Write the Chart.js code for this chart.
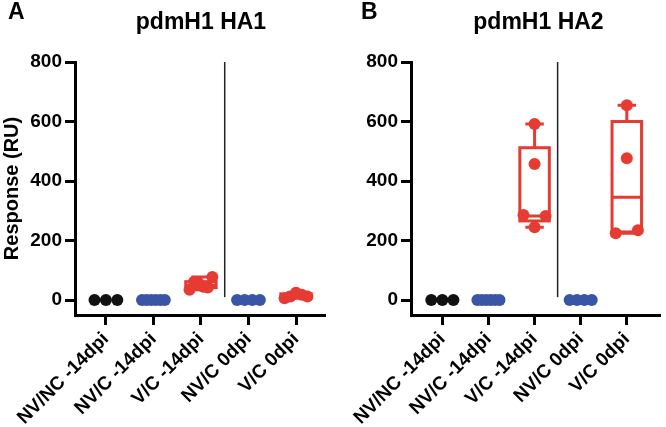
<!DOCTYPE html>
<html>
<head>
<meta charset="utf-8">
<script src="https://cdn.jsdelivr.net/npm/chart.js@4.4.1/dist/chart.umd.min.js"></script>
<style>
  body { margin: 0; background: #fff; }
  #wrap { position: relative; width: 666px; height: 427px; font-family: "Liberation Sans", Arial, sans-serif; font-weight: bold; color: #000; }
  canvas { position: absolute; top: 0; }
  .lbl { position: absolute; font-size: 23px; line-height: 23px; white-space: nowrap; }
  .ttl { position: absolute; font-size: 23px; line-height: 23px; text-align: center; white-space: nowrap; }
</style>
</head>
<body>
<div id="wrap">
  <canvas id="ha1" width="333" height="427" style="left:0"></canvas>
  <canvas id="ha2" width="333" height="427" style="left:333px"></canvas>
  <div class="lbl" style="left:8px;top:0px">A</div>
  <div class="lbl" style="left:361px;top:0px">B</div>
  <div class="ttl" style="left:75px;width:252px;top:10px">pdmH1 HA1</div>
  <div class="ttl" style="left:411px;width:255px;top:10px">pdmH1 HA2</div>
</div>
<script>
const categories = ["NV/NC -14dpi", "NV/C -14dpi", "V/C -14dpi", "NV/C 0dpi", "V/C 0dpi"];
const groupColors = ["#111111", "#3a55a6", "#e63b32", "#3a55a6", "#e63b32"];
const yTicks = [0, 200, 400, 600, 800];

// pdmH1 HA1 response (RU) per animal, one list per group
const ha1Points = [
  [0, 0, 0],
  [0, 0, 0, 0, 0, 0],
  [35, 62, 55, 45, 42, 78],
  [0, 0, 0, 0],
  [6, 12, 25, 18, 12]
];
// whiskers [min, max] and box [q1, median, q3]
const ha1Whiskers = [null, null, [35, 78], null, [6, 25]];
const ha1Boxes = [null, null, [42, 50, 62], null, [9, 12, 21]];

// pdmH1 HA2
const ha2Points = [
  [0, 0, 0],
  [0, 0, 0, 0, 0, 0],
  [592, 457, 286, 283, 245],
  [0, 0, 0, 0],
  [655, 477, 225, 235]
];
const ha2Whiskers = [null, null, [245, 592], null, [225, 655]];
const ha2Boxes = [null, null, [266, 283, 512], null, [229, 346, 600]];

Chart.defaults.font.family = '"Liberation Sans", Arial, sans-serif';
Chart.defaults.font.weight = "bold";
Chart.defaults.color = "#000";

// spread dots that would overlap side by side (like a scatter dot plot)
function swarmOffsets(vals, closeGap, half) {
  const idx = vals.map((v, i) => i).sort((a, b) => vals[a] - vals[b]);
  const offs = new Array(vals.length).fill(0);
  let start = 0;
  for (let k = 1; k <= idx.length; k++) {
    if (k === idx.length || vals[idx[k]] - vals[idx[k - 1]] >= closeGap) {
      const grp = idx.slice(start, k).sort((a, b) => a - b);
      const n = grp.length;
      grp.forEach((i, j) => { offs[i] = n === 1 ? 0 : -half + 2 * half * j / (n - 1); });
      start = k;
    }
  }
  return offs;
}

function makePanel(id, points, whiskers, boxes, opts) {
  const datasets = points.map((vals, i) => {
    const offs = swarmOffsets(vals, 36, 0.24);
    return {
      label: categories[i],
      data: vals.map((v, j) => ({ x: i + offs[j], y: v })),
      backgroundColor: groupColors[i],
      borderWidth: 0,
      pointRadius: 6,
      pointHoverRadius: 6
    };
  });

  const boxPlugin = {
    id: "boxes",
    beforeDatasetsDraw(chart) {
      const { ctx, scales: { x, y } } = chart;
      ctx.save();
      // divider between the -14dpi and 0dpi groups
      ctx.strokeStyle = "#222";
      ctx.lineWidth = 1.5;
      ctx.beginPath();
      ctx.moveTo(x.getPixelForValue(2.5), y.getPixelForValue(800));
      ctx.lineTo(x.getPixelForValue(2.5), y.getPixelForValue(10));
      ctx.stroke();

      ctx.lineWidth = 3;
      boxes.forEach((b, i) => {
        if (!b) return;
        const w = whiskers[i];
        ctx.strokeStyle = groupColors[i];
        const xl = x.getPixelForValue(i - 0.32), xr = x.getPixelForValue(i + 0.32);
        const cl = x.getPixelForValue(i - 0.2), cr = x.getPixelForValue(i + 0.2);
        const xc = x.getPixelForValue(i);
        const q1 = y.getPixelForValue(b[0]), md = y.getPixelForValue(b[1]), q3 = y.getPixelForValue(b[2]);
        const lo = y.getPixelForValue(w[0]), hi = y.getPixelForValue(w[1]);
        ctx.strokeRect(xl, q3, xr - xl, q1 - q3);
        ctx.beginPath();
        ctx.moveTo(xl, md); ctx.lineTo(xr, md);
        ctx.moveTo(xc, q3); ctx.lineTo(xc, hi);
        ctx.moveTo(cl, hi); ctx.lineTo(cr, hi);
        ctx.moveTo(xc, q1); ctx.lineTo(xc, lo);
        ctx.moveTo(cl, lo); ctx.lineTo(cr, lo);
        ctx.stroke();
      });
      ctx.restore();
    }
  };

  return new Chart(document.getElementById(id), {
    type: "scatter",
    data: { datasets },
    plugins: [boxPlugin],
    options: {
      responsive: false,
      animation: false,
      events: [],
      layout: { padding: { top: 62, right: opts.right, bottom: 0, left: 0 } },
      plugins: { legend: { display: false }, tooltip: { enabled: false } },
      scales: {
        x: {
          type: "linear",
          min: opts.xmin,
          max: opts.xmax,
          afterBuildTicks: s => { s.ticks = categories.map((c, i) => ({ value: i })); },
          afterFit: s => { s.height = 112; },
          grid: { drawOnChartArea: false, drawTicks: true, tickLength: 10, tickWidth: 3, tickColor: "#000" },
          border: { display: true, color: "#000", width: 3 },
          ticks: {
            minRotation: 45, maxRotation: 45, padding: 3,
            font: { size: 19, weight: "bold" },
            callback: v => categories[v]
          }
        },
        y: {
          min: -50,
          max: 800,
          afterBuildTicks: s => { s.ticks = yTicks.map(v => ({ value: v })); },
          afterFit: s => { s.width = opts.axisLeft; },
          grid: { drawOnChartArea: false, drawTicks: true, tickLength: 10, tickWidth: 3, tickColor: "#000" },
          border: { display: true, color: "#000", width: 3 },
          ticks: { padding: 3, font: { size: 19, weight: "bold" } },
          title: {
            display: !!opts.yTitle,
            text: opts.yTitle || "",
            padding: 0,
            font: { size: 20, weight: "bold" }
          }
        }
      }
    }
  });
}

makePanel("ha1", ha1Points, ha1Whiskers, ha1Boxes,
  { xmin: -0.65, xmax: 4.61, axisLeft: 75, right: 8, yTitle: "Response (RU)" });
makePanel("ha2", ha2Points, ha2Whiskers, ha2Boxes,
  { xmin: -0.68, xmax: 4.72, axisLeft: 78, right: 0 });
</script>
</body>
</html>
